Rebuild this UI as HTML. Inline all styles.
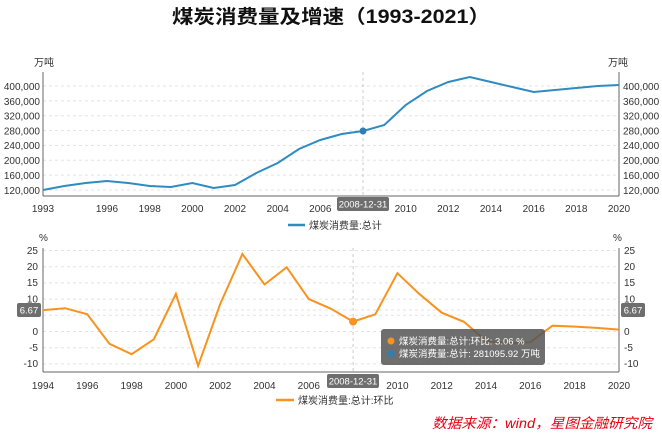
<!DOCTYPE html>
<html><head><meta charset="utf-8"><style>
body{margin:0;background:#fff;}
svg{display:block;font-family:"Liberation Sans","Noto Sans CJK SC",sans-serif;}
.t{font-size:10px;fill:#333;}
.g{stroke:#e3e3e3;stroke-dasharray:3,3;stroke-width:1;}
.ax{stroke:#666;stroke-width:1;}
</style></head><body>
<svg width="662" height="434" viewBox="0 0 662 434">
<text x="331" y="23" text-anchor="middle" font-size="19" font-weight="bold" fill="#111" textLength="318" lengthAdjust="spacingAndGlyphs">煤炭消费量及增速（1993-2021）</text>
<!-- TOP CHART -->
<g>
<line class="g" x1="43" x2="619" y1="86" y2="86"/><line class="g" x1="43" x2="619" y1="100.9" y2="100.9"/><line class="g" x1="43" x2="619" y1="115.7" y2="115.7"/><line class="g" x1="43" x2="619" y1="130.6" y2="130.6"/><line class="g" x1="43" x2="619" y1="145.4" y2="145.4"/><line class="g" x1="43" x2="619" y1="160.3" y2="160.3"/><line class="g" x1="43" x2="619" y1="175.1" y2="175.1"/><line class="g" x1="43" x2="619" y1="190" y2="190"/>
<line x1="363" x2="363" y1="72" y2="196" stroke="#ccc" stroke-dasharray="3,3"/>
<line class="ax" x1="43" x2="43" y1="72" y2="196"/><line class="ax" x1="619" x2="619" y1="72" y2="196"/><line class="ax" x1="43" x2="619" y1="196" y2="196"/>
<text class="t" x="34" y="66">万吨</text><text class="t" x="608" y="66">万吨</text>
<g text-anchor="end" class="t">
<text x="40" y="90">400,000</text><text x="40" y="105">360,000</text><text x="40" y="119.5">320,000</text><text x="40" y="134.5">280,000</text><text x="40" y="149">240,000</text><text x="40" y="164">200,000</text><text x="40" y="179">160,000</text><text x="40" y="194">120,000</text></g>
<g class="t">
<text x="623" y="90">400,000</text><text x="623" y="105">360,000</text><text x="623" y="119.5">320,000</text><text x="623" y="134.5">280,000</text><text x="623" y="149">240,000</text><text x="623" y="164">200,000</text><text x="623" y="179">160,000</text><text x="623" y="194">120,000</text></g>
<g class="t" text-anchor="middle">
<text x="43" y="212">1993</text><text x="107" y="212">1996</text><text x="149.7" y="212">1998</text><text x="192.3" y="212">2000</text><text x="235" y="212">2002</text><text x="277.7" y="212">2004</text><text x="320.3" y="212">2006</text><text x="405.7" y="212">2010</text><text x="448.3" y="212">2012</text><text x="491" y="212">2014</text><text x="533.7" y="212">2016</text><text x="576.3" y="212">2018</text><text x="619" y="212">2020</text></g>
<polyline fill="none" stroke="#2f8bc0" stroke-width="2" points="43,190 64.3,186 85.7,183 107,181 128.3,183 149.7,186 171,187 192.3,183 213.7,188 235,185 256.3,173 277.7,163 299,149 320.3,140 341.7,134 363,131 384.3,125 405.7,105 427,91 448.3,82 469.7,77 491,82 512.3,87 533.7,92 555,90 576.3,88 597.7,86 619,85"/>
<circle cx="363" cy="131" r="3.5" fill="#2f7fb5"/>
<rect x="337" y="197" width="52" height="14" rx="2" fill="#6e6e6e"/>
<text x="363" y="207.5" text-anchor="middle" font-size="9.5" fill="#fff">2008-12-31</text>
<line x1="288" x2="305" y1="225" y2="225" stroke="#2f8bc0" stroke-width="2.5"/>
<text class="t" x="309" y="229">煤炭消费量:总计</text>
</g>
<!-- BOTTOM CHART -->
<g>
<line class="g" x1="43" x2="619" y1="250.5" y2="250.5"/><line class="g" x1="43" x2="619" y1="266.7" y2="266.7"/><line class="g" x1="43" x2="619" y1="282.9" y2="282.9"/><line class="g" x1="43" x2="619" y1="299.1" y2="299.1"/><line class="g" x1="43" x2="619" y1="315.3" y2="315.3"/><line class="g" x1="43" x2="619" y1="331.5" y2="331.5"/><line class="g" x1="43" x2="619" y1="347.7" y2="347.7"/><line class="g" x1="43" x2="619" y1="363.9" y2="363.9"/>
<line class="g" x1="43" x2="619" y1="310" y2="310"/>
<line x1="353.1" x2="353.1" y1="248" y2="372" stroke="#ccc" stroke-dasharray="3,3"/>
<line class="ax" x1="43" x2="43" y1="248" y2="372"/><line class="ax" x1="619" x2="619" y1="248" y2="372"/><line class="ax" x1="43" x2="619" y1="372" y2="372"/>
<text class="t" x="39" y="241">%</text><text class="t" x="613" y="241">%</text>
<g class="t" text-anchor="end">
<text x="38" y="254">25</text><text x="38" y="270">20</text><text x="38" y="286">15</text><text x="38" y="302.5">10</text><text x="38" y="335">0</text><text x="38" y="351">-5</text><text x="38" y="367">-10</text></g>
<g class="t">
<text x="624" y="254">25</text><text x="624" y="270">20</text><text x="624" y="286">15</text><text x="624" y="302.5">10</text><text x="624" y="335">0</text><text x="624" y="351">-5</text><text x="624" y="367">-10</text></g>
<rect x="17" y="303" width="24" height="14" rx="2" fill="#6e6e6e"/><text x="29" y="313.5" text-anchor="middle" font-size="9.5" fill="#fff">6.67</text>
<rect x="621" y="303" width="24" height="14" rx="2" fill="#6e6e6e"/><text x="633" y="313.5" text-anchor="middle" font-size="9.5" fill="#fff">6.67</text>
<g class="t" text-anchor="middle">
<text x="43" y="389">1994</text><text x="87.3" y="389">1996</text><text x="131.6" y="389">1998</text><text x="175.9" y="389">2000</text><text x="220.2" y="389">2002</text><text x="264.5" y="389">2004</text><text x="308.8" y="389">2006</text><text x="397.4" y="389">2010</text><text x="441.7" y="389">2012</text><text x="486" y="389">2014</text><text x="530.3" y="389">2016</text><text x="574.6" y="389">2018</text><text x="619" y="389">2020</text></g>
<polyline fill="none" stroke="#f7931e" stroke-width="2" points="43,310.1 65.2,308.2 87.3,314.3 109.5,343.8 131.6,354.2 153.8,339.3 175.9,293.9 198.1,365.8 220.2,304 242.4,254 264.5,284.5 286.7,267.3 308.8,299.1 331,308.8 353.1,321.6 375.3,314.3 397.4,273.2 419.6,294.2 441.7,312.7 463.9,321.8 486,340.9 508.2,343.5 530.3,342.2 552.5,325.7 574.6,326.6 596.8,327.9 619,329.6"/>
<circle cx="353.1" cy="321.6" r="4" fill="#f7931e"/>
<rect x="327" y="374" width="52" height="14" rx="2" fill="#6e6e6e"/>
<text x="353" y="384.5" text-anchor="middle" font-size="9.5" fill="#fff">2008-12-31</text>
<rect x="381" y="329" width="164" height="36" rx="3" fill="#555" fill-opacity="0.85"/>
<circle cx="391" cy="341" r="3.5" fill="#f7931e"/><circle cx="391" cy="353.5" r="3.5" fill="#2f7fb5"/>
<text x="399" y="344.5" font-size="9.5" fill="#fff">煤炭消费量:总计:环比: 3.06  %</text>
<text x="399" y="357" font-size="9.5" fill="#fff">煤炭消费量:总计: 281095.92  万吨</text>
<line x1="276" x2="294" y1="400" y2="400" stroke="#f7931e" stroke-width="2.5"/>
<text class="t" x="298" y="404">煤炭消费量:总计:环比</text>
</g>
<text x="652" y="428" text-anchor="end" font-size="14" font-style="italic" fill="#e60012" textLength="220" lengthAdjust="spacingAndGlyphs">数据来源：wind，星图金融研究院</text>
</svg>
</body></html>
